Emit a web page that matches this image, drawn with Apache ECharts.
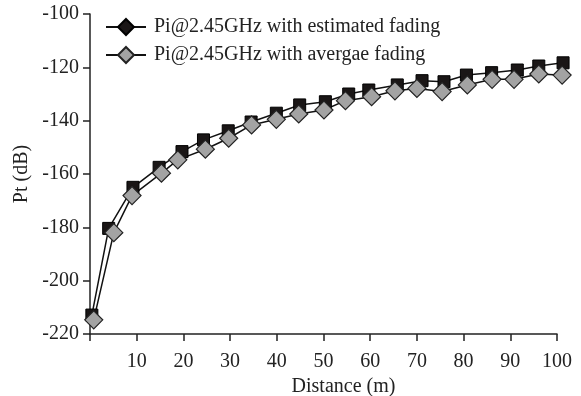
<!DOCTYPE html>
<html>
<head>
<meta charset="utf-8">
<script src="https://cdn.jsdelivr.net/npm/echarts@6/dist/echarts.min.js"></script>
<style>html,body{margin:0;padding:0;background:#fff}#c{width:581px;height:396px}</style>
</head>
<body>
<div id="c"></div>
<script>
var seriesNames = ['Pi@2.45GHz with estimated fading', 'Pi@2.45GHz with avergae fading'];
var xEst = [0.4, 4.0, 9.2, 14.8, 19.7, 24.3, 29.6, 34.5, 39.9, 44.9, 50.4, 55.4, 59.7, 65.8, 71.1, 75.8, 80.6, 86.0, 91.5, 96.1, 101.3];
var yEst = [-212.9, -180.4, -165.0, -157.5, -151.6, -147.2, -143.8, -140.5, -137.2, -134.1, -132.9, -130.0, -128.5, -126.6, -125.0, -125.4, -122.9, -122.0, -121.0, -119.5, -118.3];
var xAvg = [0.8, 5.1, 9.0, 15.3, 18.8, 24.7, 29.7, 34.6, 39.9, 44.7, 50.1, 54.7, 60.3, 65.3, 70.0, 75.4, 80.8, 86.1, 90.8, 96.1, 101.1];
var yAvg = [-214.7, -182.0, -168.1, -159.7, -154.7, -150.7, -146.6, -141.6, -139.5, -137.5, -136.0, -132.5, -131.0, -128.8, -127.9, -129.1, -126.6, -124.5, -124.5, -122.5, -122.9];
var xTitle = 'Distance (m)';
var yTitle = 'Pt (dB)';

var FONT = '"Liberation Serif", "Times New Roman", serif';
var FS = 20;
var estData = xEst.map(function (x, i) { return { value: [x, yEst[i]], symbol: 'rect' }; });
var avgData = xAvg.map(function (x, i) { return [x, yAvg[i]]; });

var chart = echarts.init(document.getElementById('c'), null, { renderer: 'canvas' });
chart.setOption({
  animation: false,
  backgroundColor: '#fff',
  grid: { left: 90, right: 24, top: 14, bottom: 62, containLabel: false, outerBoundsMode: 'none' },
  legend: {
    left: 105, top: 16, orient: 'vertical', padding: 0, itemWidth: 40, itemHeight: 20, itemGap: 6,
    textStyle: { fontFamily: FONT, fontSize: FS, color: '#222', lineHeight: 22, padding: [0, 0, 0, 3] },
    data: seriesNames
  },
  xAxis: {
    type: 'value', min: 0, max: 100, interval: 10,
    name: xTitle, nameLocation: 'middle', nameGap: 35,
    nameTextStyle: { fontFamily: FONT, fontSize: FS, color: '#222', padding: [0, 0, 0, 40] },
    axisLine: { lineStyle: { color: '#222', width: 1.5 } },
    axisTick: { inside: false, length: 7, lineStyle: { color: '#222', width: 1.5 } },
    axisLabel: { fontFamily: FONT, fontSize: FS, color: '#222', margin: 18,
      formatter: function (v) { return v === 0 ? '' : String(v); } },
    splitLine: { show: false }
  },
  yAxis: {
    type: 'value', min: -220, max: -100, interval: 20,
    name: yTitle, nameLocation: 'middle', nameGap: 56, nameRotate: 90,
    nameTextStyle: { fontFamily: FONT, fontSize: FS, color: '#222' },
    axisLine: { show: true, lineStyle: { color: '#222', width: 1.5 } },
    axisTick: { show: true, inside: false, length: 7, lineStyle: { color: '#222', width: 1.5 } },
    axisLabel: { fontFamily: FONT, fontSize: FS, color: '#222', margin: 11 },
    splitLine: { show: false }
  },
  series: [
    {
      name: seriesNames[0], type: 'line', data: estData, clip: false,
      symbol: 'diamond', symbolSize: 12,
      lineStyle: { color: '#111', width: 1.5 },
      itemStyle: { color: '#1a1616', borderColor: '#000', borderWidth: 1 }
    },
    {
      name: seriesNames[1], type: 'line', data: avgData, clip: false,
      symbol: 'diamond', symbolSize: 18,
      lineStyle: { color: '#111', width: 1.5 },
      itemStyle: { color: '#a3a3a3', borderColor: '#222', borderWidth: 1.2 }
    }
  ]
});
</script>
</body>
</html>
